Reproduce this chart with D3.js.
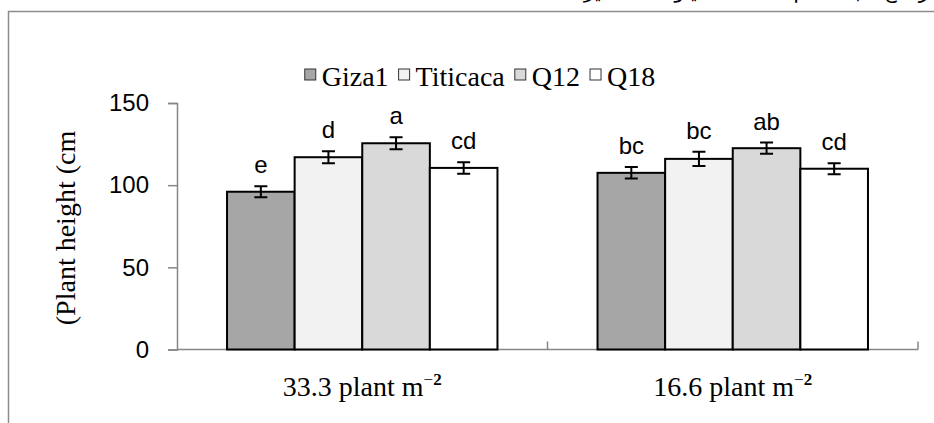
<!DOCTYPE html>
<html>
<head>
<meta charset="utf-8">
<script src="https://cdn.jsdelivr.net/npm/d3@7"></script>
<style>
  body { margin: 0; background: #fff; }
  svg { display: block; }
</style>
</head>
<body>
<div id="chart"></div>
<script>
// densities on the x axis, cultivars as series
const categories = ['33.3 plant m', '16.6 plant m']
const series = ['Giza1', 'Titicaca', 'Q12', 'Q18']
const heights = [
    [96, 117, 125.5, 110.5],
    [107.5, 116, 122.5, 110]
]
const errors = [
    [3.4, 3.6, 3.7, 3.5],
    [3.5, 4.3, 3.4, 3.4]
]
const letters = [
    ['e', 'd', 'a', 'cd'],
    ['bc', 'bc', 'ab', 'cd']
]
const yTicks = [0, 50, 100, 150]
const colors = ['#a6a6a6', '#f2f2f2', '#d9d9d9', '#ffffff']

const width = 934, height = 423
const serif = "'Liberation Serif', 'Times New Roman', serif"
const sans = "'Liberation Sans', Arial, sans-serif"

const svg = d3.select('#chart').append('svg')
    .attr('width', width)
    .attr('height', height)

// caption line above the frame, mostly cut by the top edge
svg.append('text')
    .attr('x', 934)
    .attr('y', -2)
    .attr('direction', 'rtl')
    .attr('text-anchor', 'start')
    .style('font-family', "'DejaVu Sans', sans-serif")
    .style('font-size', '20px')
    .text('ارتفاع النبات سم لأصناف الكينوا تحت تأثير الكثافة')

// frame
svg.append('rect')
    .attr('x', 8.5)
    .attr('y', 11.5)
    .attr('width', 1000)
    .attr('height', 1000)
    .attr('fill', 'none')
    .attr('stroke', '#8c8c8c')
    .attr('stroke-width', 1.5)

const y = d3.scaleLinear().domain([0, 150]).range([349.5, 103])
const x0 = d3.scaleBand().domain(categories).range([177, 918])
const x1 = d3.scaleBand().domain(series).range([0, x0.bandwidth()]).paddingOuter(0.74)

// x axis with upward ticks at group boundaries
const axisColor = '#868686'
svg.append('line')
    .attr('x1', 177).attr('x2', 918)
    .attr('y1', y(0)).attr('y2', y(0))
    .attr('stroke', axisColor).attr('stroke-width', 1.5)
svg.append('g').selectAll('line')
    .data(categories)
    .join('line')
    .attr('x1', d => x0(d) + x0.bandwidth())
    .attr('x2', d => x0(d) + x0.bandwidth())
    .attr('y1', y(0)).attr('y2', y(0) - 8)
    .attr('stroke', axisColor).attr('stroke-width', 1.5)

// y axis
const yAxis = svg.append('g')
    .attr('transform', 'translate(177,0)')
    .call(d3.axisLeft(y).tickValues(yTicks).tickSize(9).tickPadding(19).tickFormat(d3.format('d')))
yAxis.select('.domain').attr('stroke', axisColor).attr('stroke-width', 1.5)
yAxis.selectAll('.tick line').attr('stroke', axisColor).attr('stroke-width', 1.5)
yAxis.selectAll('.tick text')
    .style('font-family', sans)
    .style('font-size', '24px')
    .attr('fill', '#000')

// bars
const groups = svg.append('g').selectAll('g')
    .data(categories)
    .join('g')
    .attr('transform', d => `translate(${x0(d)},0)`)

const rows = groups.selectAll('g')
    .data((d, gi) => series.map((s, si) => ({
        s, si, v: heights[gi][si], e: errors[gi][si], l: letters[gi][si]
    })))
    .join('g')

rows.append('rect')
    .attr('x', d => x1(d.s))
    .attr('y', d => y(d.v))
    .attr('width', x1.bandwidth())
    .attr('height', d => y(0) - y(d.v))
    .attr('fill', d => colors[d.si])
    .attr('stroke', '#000')
    .attr('stroke-width', 2)

// error bars
const cx = d => x1(d.s) + x1.bandwidth() / 2
rows.append('path')
    .attr('d', d => {
        const top = y(d.v + d.e), bot = y(d.v - d.e), c = cx(d)
        return `M${c},${top}V${bot}M${c - 6.5},${top}H${c + 6.5}M${c - 6.5},${bot}H${c + 6.5}`
    })
    .attr('fill', 'none')
    .attr('stroke', '#000')
    .attr('stroke-width', 2)

// significance letters
rows.append('text')
    .attr('x', cx)
    .attr('y', d => y(d.v + d.e) - 13)
    .attr('text-anchor', 'middle')
    .style('font-family', sans)
    .style('font-size', '24px')
    .text(d => d.l)

// category labels
const xl = svg.append('g').selectAll('text')
    .data(categories)
    .join('text')
    .attr('x', d => x0(d) + x0.bandwidth() / 2)
    .attr('y', 396)
    .attr('text-anchor', 'middle')
    .style('font-family', serif)
    .style('font-size', '28px')
xl.append('tspan').text(d => d)
xl.append('tspan')
    .attr('dy', -11)
    .style('font-size', '17px')
    .text('−')
xl.append('tspan')
    .style('font-size', '17px')
    .style('font-weight', 'bold')
    .text('2')

// y label
svg.append('text')
    .attr('transform', 'translate(75,228) rotate(-90)')
    .attr('text-anchor', 'middle')
    .style('font-family', serif)
    .style('font-size', '28px')
    .text('(Plant height (cm')

// legend
const legend = svg.append('g')
let cursor = 0
series.forEach((s, i) => {
    legend.append('rect')
        .attr('x', cursor)
        .attr('y', 69)
        .attr('width', 11)
        .attr('height', 11)
        .attr('fill', colors[i])
        .attr('stroke', '#333')
        .attr('stroke-width', 1)
    const t = legend.append('text')
        .attr('x', cursor + 17)
        .attr('y', 86)
        .style('font-family', serif)
        .style('font-size', '28px')
        .text(s)
    cursor += 17 + t.node().getComputedTextLength() + 10
})
cursor -= 10
legend.attr('transform', `translate(${480 - cursor / 2},0)`)
</script>
</body>
</html>
